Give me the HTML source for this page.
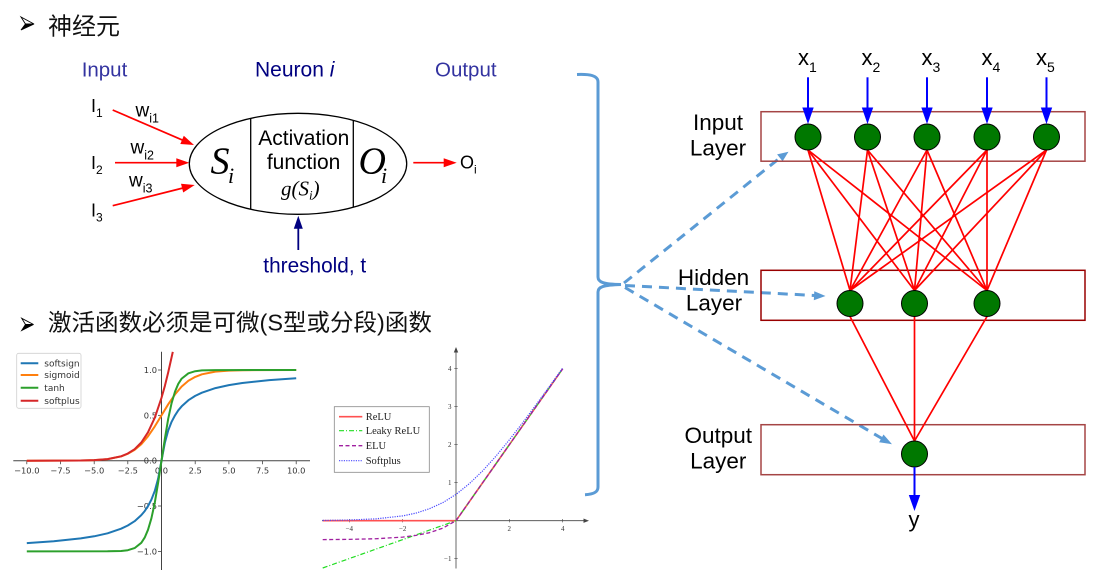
<!DOCTYPE html>
<html>
<head>
<meta charset="utf-8">
<style>
html,body{margin:0;padding:0;background:#fff;width:1106px;height:579px;overflow:hidden;}
svg{display:block;}
.cjk{font-family:"Liberation Sans","Noto Sans CJK SC",sans-serif;}
.sans{font-family:"Liberation Sans",sans-serif;}
.serif{font-family:"Liberation Serif",serif;}
.dv{font-family:"DejaVu Sans","Liberation Sans",sans-serif;}
</style>
</head>
<body>
<svg width="1106" height="579" viewBox="0 0 1106 579" xmlns="http://www.w3.org/2000/svg">
<rect x="0" y="0" width="1106" height="579" fill="#fff"/>

<!-- Title 1 -->
<polygon points="21,17 34,24 25.5,24" fill="#fff" stroke="#000" stroke-width="0.9"/>
<polygon points="21,30 34,24 25.5,24" fill="#000" stroke="#000" stroke-width="0.9"/>
<text x="48" y="34.5" class="cjk" font-size="24" fill="#111">神经元</text>

<!-- Title 2 -->
<polygon points="21.7,318.3 33.5,324.5 25.5,324.5" fill="#fff" stroke="#000" stroke-width="0.9"/>
<polygon points="21.7,330.5 33.5,324.5 25.5,324.5" fill="#000" stroke="#000" stroke-width="0.9"/>
<text x="48" y="330.5" class="cjk" font-size="23.5" fill="#111">激活函数必须是可微(S型或分段)函数</text>

<!-- Neuron diagram headers -->
<text x="81.7" y="76.7" class="sans" font-size="20.5" fill="#3333a0">Input</text>
<text x="255" y="76.7" class="sans" font-size="21" fill="#000080">Neuron <tspan font-style="italic">i</tspan></text>
<text x="435" y="76.7" class="sans" font-size="20.5" fill="#3333a0">Output</text>

<!-- Inputs -->
<g class="sans" fill="#000">
<text x="91" y="112" font-size="18">I<tspan font-size="12" dy="5">1</tspan></text>
<text x="91" y="169" font-size="18">I<tspan font-size="12" dy="5">2</tspan></text>
<text x="91" y="216.5" font-size="18">I<tspan font-size="12" dy="5">3</tspan></text>
<text x="135.5" y="116.7" font-size="19">w<tspan font-size="12.5" dy="6">i1</tspan></text>
<text x="130.5" y="153.3" font-size="19">w<tspan font-size="12.5" dy="6">i2</tspan></text>
<text x="129" y="186.7" font-size="19">w<tspan font-size="12.5" dy="6">i3</tspan></text>
</g>

<!-- red input arrows -->
<g stroke="#ff0000" stroke-width="1.7" fill="none">
<line x1="112.7" y1="110" x2="183" y2="140.3"/>
<line x1="115" y1="162.7" x2="177" y2="162.7"/>
<line x1="112.7" y1="205.7" x2="183" y2="188"/>
<line x1="413.3" y1="162.7" x2="445" y2="162.7"/>
</g>
<g fill="#ff0000">
<polygon points="194,145 180.3,144 183.8,135.7"/>
<polygon points="189.3,162.7 176.3,158.2 176.3,167.2"/>
<polygon points="194.7,185 183.2,192.5 181,183.8"/>
<polygon points="456.7,162.7 443.7,158.2 443.7,167.2"/>
</g>

<!-- Ellipse neuron -->
<ellipse cx="298" cy="163.8" rx="108.7" ry="50.5" fill="#fff" stroke="#000" stroke-width="1.3"/>
<line x1="250.7" y1="118.3" x2="250.7" y2="209.3" stroke="#000" stroke-width="1.3"/>
<line x1="353.3" y1="120.3" x2="353.3" y2="207.3" stroke="#000" stroke-width="1.3"/>

<text x="210.5" y="173.3" class="serif" font-size="38" font-style="italic" fill="#000">S</text>
<text x="228" y="183" class="serif" font-size="22" font-style="italic" fill="#000">i</text>
<text x="358.5" y="173.3" class="serif" font-size="38" font-style="italic" fill="#000">O</text>
<text x="381" y="183" class="serif" font-size="22" font-style="italic" fill="#000">i</text>

<text x="303.8" y="145" class="sans" font-size="21" text-anchor="middle" fill="#000">Activation</text>
<text x="303.6" y="169" class="sans" font-size="21" text-anchor="middle" fill="#000">function</text>
<text x="281" y="195.5" class="serif" font-size="21" font-style="italic" fill="#000">g(S<tspan font-size="13" dy="4">i</tspan><tspan dy="-4">)</tspan></text>

<text x="460" y="168.5" class="sans" font-size="18" fill="#000">O<tspan font-size="12" dy="5">i</tspan></text>

<!-- threshold -->
<line x1="298.3" y1="250" x2="298.3" y2="226" stroke="#000080" stroke-width="1.8"/>
<polygon points="298.3,215.7 293.8,228.7 302.8,228.7" fill="#000080"/>
<text x="263.3" y="272.7" class="sans" font-size="20.8" fill="#000080">threshold, t</text>

<!-- Plot 1 -->
<g>
<line x1="13.3" y1="460.7" x2="310" y2="460.7" stroke="#444" stroke-width="1"/>
<line x1="161.5" y1="351.7" x2="161.5" y2="570" stroke="#444" stroke-width="1"/>
<g stroke="#444" stroke-width="0.8">
<line x1="26.8" y1="460.7" x2="26.8" y2="464.2"/>
<line x1="60.5" y1="460.7" x2="60.5" y2="464.2"/>
<line x1="94.2" y1="460.7" x2="94.2" y2="464.2"/>
<line x1="127.8" y1="460.7" x2="127.8" y2="464.2"/>
<line x1="195.2" y1="460.7" x2="195.2" y2="464.2"/>
<line x1="228.9" y1="460.7" x2="228.9" y2="464.2"/>
<line x1="262.6" y1="460.7" x2="262.6" y2="464.2"/>
<line x1="296.2" y1="460.7" x2="296.2" y2="464.2"/>
<line x1="158" y1="370" x2="161.5" y2="370"/>
<line x1="158" y1="415.35" x2="161.5" y2="415.35"/>
<line x1="158" y1="506" x2="161.5" y2="506"/>
<line x1="158" y1="551.4" x2="161.5" y2="551.4"/>
</g>
<g class="dv" font-size="8.3" fill="#333" text-anchor="middle">
<text x="26.8" y="473.5">−10.0</text>
<text x="60.5" y="473.5">−7.5</text>
<text x="94.2" y="473.5">−5.0</text>
<text x="127.8" y="473.5">−2.5</text>
<text x="161.5" y="473.5">0.0</text>
<text x="195.2" y="473.5">2.5</text>
<text x="228.9" y="473.5">5.0</text>
<text x="262.6" y="473.5">7.5</text>
<text x="296.2" y="473.5">10.0</text>
</g>
<g class="dv" font-size="8.3" fill="#333" text-anchor="end">
<text x="157" y="373">1.0</text>
<text x="157" y="418.4">0.5</text>
<text x="157" y="463.7">0.0</text>
<text x="157" y="509">−0.5</text>
<text x="157" y="554.4">−1.0</text>
</g>
<g fill="none" stroke-width="2" stroke-linejoin="round">
<path stroke="#1f77b4" d="M26.8,543.1 L53.7,541.3 L80.7,538.4 L94.2,536.3 L107.6,533.3 L121.1,528.7 L127.8,525.5 L134.6,521.2 L141.3,515.1 L144.7,511.1 L148,506.1 L151.4,499.6 L154.8,490.9 L158.1,478.8 L161.5,460.7 L164.9,442.6 L168.2,430.5 L171.6,421.8 L175,415.4 L178.3,410.3 L181.7,406.3 L188.4,400.2 L195.2,395.9 L201.9,392.7 L215.4,388.1 L228.9,385.1 L242.3,383 L269.3,380.1 L296.2,378.3"/>
<path stroke="#ff7f0e" d="M26.8,460.7 L80.7,460.5 L94.2,460.1 L107.6,459.1 L121.1,456.4 L127.8,453.8 L134.6,449.9 L141.3,444.2 L148,436.3 L154.8,426.4 L161.5,415.35 L168.2,404.3 L175,394.4 L181.7,386.5 L188.4,380.8 L195.2,376.9 L201.9,374.3 L215.4,371.6 L228.9,370.6 L242.3,370.2 L296.2,370"/>
<path stroke="#2ca02c" d="M26.8,551.4 L107.6,551.3 L121.1,550.95 L127.8,550.2 L134.6,548.1 L141.3,542.8 L144.7,537.6 L148,529.8 L151.4,518.3 L154.8,502.6 L158.1,482.9 L161.5,460.7 L164.9,438.5 L168.2,418.8 L171.6,403.1 L175,391.6 L178.3,383.8 L181.7,378.6 L188.4,373.3 L195.2,371.2 L201.9,370.4 L215.4,370.1 L296.2,370"/>
<path stroke="#d62728" d="M26.8,460.7 L80.7,460.5 L94.2,460.1 L107.6,459.1 L121.1,456.3 L127.8,453.5 L134.6,449.2 L141.3,442.5 L148,432.3 L154.8,417.7 L161.5,397.8 L164.9,385.8 L168.2,372.4 L172.8,351.9"/>
</g>
<rect x="16.7" y="353.3" width="64.3" height="55" rx="2" fill="#fff" fill-opacity="0.85" stroke="#d0d0d0" stroke-width="0.8"/>
<g stroke-width="2">
<line x1="20.7" y1="363.3" x2="38.3" y2="363.3" stroke="#1f77b4"/>
<line x1="20.7" y1="375" x2="38.3" y2="375" stroke="#ff7f0e"/>
<line x1="20.7" y1="387.7" x2="38.3" y2="387.7" stroke="#2ca02c"/>
<line x1="20.7" y1="400.7" x2="38.3" y2="400.7" stroke="#d62728"/>
</g>
<g class="dv" font-size="9" fill="#333">
<text x="44.3" y="366.5">softsign</text>
<text x="44.3" y="378.2">sigmoid</text>
<text x="44.3" y="390.9">tanh</text>
<text x="44.3" y="403.9">softplus</text>
</g>
</g>

<!-- Plot 2 -->
<g>
<line x1="456" y1="568.5" x2="456" y2="351" stroke="#444" stroke-width="0.8"/>
<polygon points="456,347 453.8,352.5 458.2,352.5" fill="#444"/>
<line x1="322" y1="520.7" x2="585" y2="520.7" stroke="#444" stroke-width="0.8"/>
<polygon points="589,520.7 583.5,518.5 583.5,522.9" fill="#444"/>
<g stroke="#444" stroke-width="0.6">
<line x1="349.3" y1="519" x2="349.3" y2="522.4"/>
<line x1="402.7" y1="519" x2="402.7" y2="522.4"/>
<line x1="509.3" y1="519" x2="509.3" y2="522.4"/>
<line x1="562.7" y1="519" x2="562.7" y2="522.4"/>
<line x1="454.3" y1="368.3" x2="457.7" y2="368.3"/>
<line x1="454.3" y1="406.3" x2="457.7" y2="406.3"/>
<line x1="454.3" y1="444.3" x2="457.7" y2="444.3"/>
<line x1="454.3" y1="482.3" x2="457.7" y2="482.3"/>
<line x1="454.3" y1="558.7" x2="457.7" y2="558.7"/>
</g>
<g class="serif" font-size="7" fill="#333" text-anchor="middle">
<text x="349.3" y="531">−4</text>
<text x="402.7" y="531">−2</text>
<text x="509.3" y="531">2</text>
<text x="562.7" y="531">4</text>
</g>
<g class="serif" font-size="7" fill="#333" text-anchor="end">
<text x="451.5" y="370.8">4</text>
<text x="451.5" y="408.8">3</text>
<text x="451.5" y="446.8">2</text>
<text x="451.5" y="484.8">1</text>
<text x="451.5" y="561.2">−1</text>
</g>
<g fill="none" stroke-linejoin="round">
<path stroke="#ff5050" stroke-width="1.6" d="M322.7,520.7 L456,520.7 L562.7,368.7"/>
<path stroke="#22dd22" stroke-width="1.2" stroke-dasharray="5 2 1 2" d="M322.7,568 L456,520.7 L562.7,368.7"/>
<path stroke="#a020a0" stroke-width="1.3" stroke-dasharray="4 2.5" d="M322.7,539.6 L349.3,539.35 L376,538.75 L402.7,537.1 L416,535.4 L429.3,532.7 L442.7,528.2 L456,520.7 L562.7,368.7"/>
<path stroke="#4a4aff" stroke-width="1.2" stroke-dasharray="1.2 1.2" d="M322.7,520.4 L349.3,520 L376,518.85 L402.7,515.9 L416,513.1 L429.3,508.8 L442.7,502.7 L456,494.4 L469.3,483.7 L482.7,470.8 L496,456.1 L509.3,439.9 L522.7,422.7 L536,404.8 L549.3,386.6 L562.7,368"/>
</g>
<rect x="334.3" y="406.7" width="95" height="65.6" fill="#fff" stroke="#888" stroke-width="0.8"/>
<line x1="339" y1="416.7" x2="362.3" y2="416.7" stroke="#ff5050" stroke-width="1.6"/>
<line x1="339" y1="430.7" x2="362.3" y2="430.7" stroke="#22dd22" stroke-width="1.2" stroke-dasharray="5 2 1 2"/>
<line x1="339" y1="445.7" x2="362.3" y2="445.7" stroke="#a020a0" stroke-width="1.3" stroke-dasharray="4 2.5"/>
<line x1="339" y1="460.7" x2="362.3" y2="460.7" stroke="#4a4aff" stroke-width="1.2" stroke-dasharray="1.2 1.2"/>
<g class="serif" font-size="10.5" fill="#222">
<text x="365.7" y="420.2">ReLU</text>
<text x="365.7" y="434.2">Leaky ReLU</text>
<text x="365.7" y="449.2">ELU</text>
<text x="365.7" y="464.2">Softplus</text>
</g>
</g>

<!-- Brace -->
<path d="M577,74.5 C590,74 598,75.5 598,82 L598,277 C598,282 603,284.3 621,284.5 C603,285 598,287 598,292 L598,487 C598,492 594,494.3 585,494.7" fill="none" stroke="#5b9bd5" stroke-width="3"/>

<!-- Dashed arrows -->
<g stroke="#5b9bd5" stroke-width="3" stroke-dasharray="10 7" fill="none">
<line x1="624" y1="283" x2="781" y2="157"/>
<line x1="625" y1="285.5" x2="815" y2="295.5"/>
<line x1="625" y1="287.5" x2="882" y2="438.5"/>
</g>
<g fill="#5b9bd5">
<polygon points="788.5,151.8 777.1,154.4 782.6,161.2"/>
<polygon points="825.5,296 814.3,291.2 813.8,300.2"/>
<polygon points="892,444.2 883.5,434.5 879.1,442.2"/>
</g>

<!-- Network layer rects -->
<rect x="761" y="111.7" width="324" height="49.5" fill="none" stroke="#a54545" stroke-width="1.5"/>
<rect x="761" y="270.3" width="324" height="50" fill="none" stroke="#990000" stroke-width="1.5"/>
<rect x="761" y="424.7" width="324" height="50" fill="none" stroke="#a54545" stroke-width="1.5"/>

<!-- Layer labels -->
<g class="sans" font-size="22.5" fill="#000" text-anchor="middle">
<text x="718" y="130">Input</text>
<text x="718" y="155.5">Layer</text>
<text x="713.5" y="285">Hidden</text>
<text x="714" y="310.5">Layer</text>
<text x="718.3" y="443">Output</text>
<text x="718.3" y="468.3">Layer</text>
</g>

<!-- connections -->
<g stroke="#ff0000" stroke-width="1.7">
<line x1="808" y1="150" x2="850" y2="290.5"/>
<line x1="808" y1="150" x2="914.5" y2="290.5"/>
<line x1="808" y1="150" x2="987" y2="290.5"/>
<line x1="867.5" y1="150" x2="850" y2="290.5"/>
<line x1="867.5" y1="150" x2="914.5" y2="290.5"/>
<line x1="867.5" y1="150" x2="987" y2="290.5"/>
<line x1="927" y1="150" x2="850" y2="290.5"/>
<line x1="927" y1="150" x2="914.5" y2="290.5"/>
<line x1="927" y1="150" x2="987" y2="290.5"/>
<line x1="987" y1="150" x2="850" y2="290.5"/>
<line x1="987" y1="150" x2="914.5" y2="290.5"/>
<line x1="987" y1="150" x2="987" y2="290.5"/>
<line x1="1046.5" y1="150" x2="850" y2="290.5"/>
<line x1="1046.5" y1="150" x2="914.5" y2="290.5"/>
<line x1="1046.5" y1="150" x2="987" y2="290.5"/>
<line x1="850" y1="316.5" x2="914.5" y2="441"/>
<line x1="914.5" y1="316.5" x2="914.5" y2="441"/>
<line x1="987" y1="316.5" x2="914.5" y2="441"/>
</g>

<!-- nodes -->
<g fill="#007800" stroke="#000" stroke-width="1">
<circle cx="808" cy="137" r="13"/>
<circle cx="867.5" cy="137" r="13"/>
<circle cx="927" cy="137" r="13"/>
<circle cx="987" cy="137" r="13"/>
<circle cx="1046.5" cy="137" r="13"/>
<circle cx="850" cy="303.5" r="13"/>
<circle cx="914.5" cy="303.5" r="13"/>
<circle cx="987" cy="303.5" r="13"/>
<circle cx="914.5" cy="454" r="13"/>
</g>

<!-- input blue arrows -->
<g stroke="#0000ff" stroke-width="2">
<line x1="808" y1="77.3" x2="808" y2="110"/>
<line x1="867.5" y1="77.3" x2="867.5" y2="110"/>
<line x1="927" y1="77.3" x2="927" y2="110"/>
<line x1="987" y1="77.3" x2="987" y2="110"/>
<line x1="1046.5" y1="77.3" x2="1046.5" y2="110"/>
<line x1="914.5" y1="467" x2="914.5" y2="497"/>
</g>
<g fill="#0000ff">
<polygon points="802.3,107.5 813.7,107.5 808,124"/>
<polygon points="861.8,107.5 873.2,107.5 867.5,124"/>
<polygon points="921.3,107.5 932.7,107.5 927,124"/>
<polygon points="981.3,107.5 992.7,107.5 987,124"/>
<polygon points="1040.8,107.5 1052.2,107.5 1046.5,124"/>
<polygon points="908.8,495 920.2,495 914.5,511"/>
</g>

<!-- x labels -->
<g class="sans" font-size="22" fill="#000">
<text x="798" y="65">x<tspan font-size="14" dy="7">1</tspan></text>
<text x="861.5" y="65">x<tspan font-size="14" dy="7">2</tspan></text>
<text x="921.5" y="65">x<tspan font-size="14" dy="7">3</tspan></text>
<text x="981.5" y="65">x<tspan font-size="14" dy="7">4</tspan></text>
<text x="1036" y="65">x<tspan font-size="14" dy="7">5</tspan></text>
<text x="914" y="527" text-anchor="middle">y</text>
</g>
</svg>
</body>
</html>
